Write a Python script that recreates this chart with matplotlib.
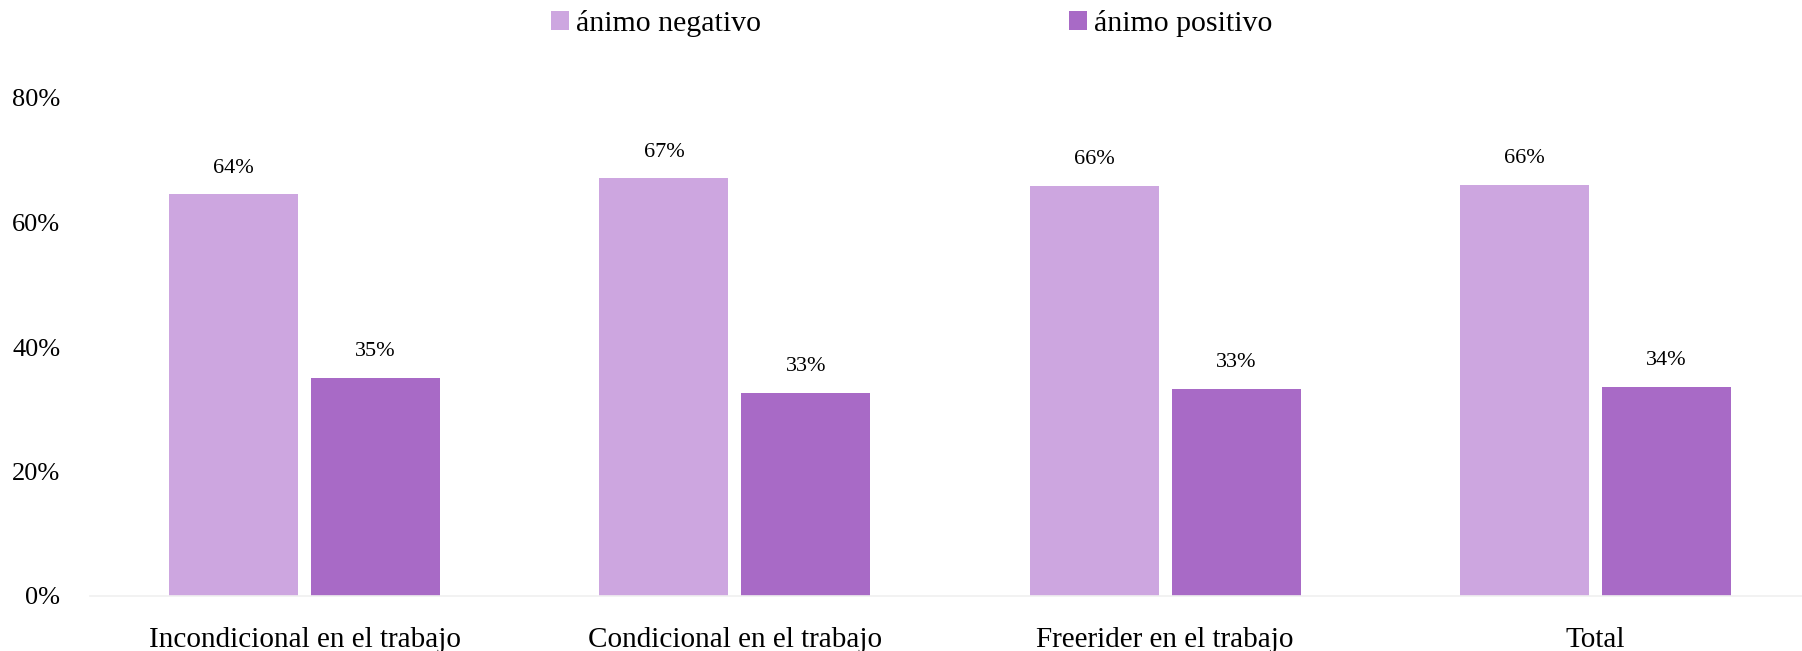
import matplotlib
matplotlib.use("Agg")
from matplotlib import pyplot as plt
import numpy as np

categorias = ["Incondicional en el trabajo", "Condicional en el trabajo", "Freerider en el trabajo", "Total"]
animo_negativo = [0.645, 0.671, 0.659, 0.660]
animo_positivo = [0.351, 0.326, 0.333, 0.336]
etiquetas_neg = ["64%", "67%", "66%", "66%"]
etiquetas_pos = ["35%", "33%", "33%", "34%"]

plt.rcParams['font.family'] = ['Liberation Serif', 'DejaVu Serif']

fig = plt.figure(figsize=(18.02, 6.51), dpi=100)
ax = fig.add_axes([89.5/1802, 55/651, 1 - 89.5/1802, 498/651])

x = np.arange(len(categorias))
ancho = 0.30
c_neg = "#CDA6E0"
c_pos = "#A86AC6"
b1 = ax.bar(x - 0.165, animo_negativo, ancho, color=c_neg, label="ánimo negativo")
b2 = ax.bar(x + 0.165, animo_positivo, ancho, color=c_pos, label="ánimo positivo")

for barra, t in zip(b1, etiquetas_neg):
    ax.annotate(t, (barra.get_x() + barra.get_width()/2, barra.get_height()),
                xytext=(0, 12), textcoords="offset points", ha="center", va="bottom", fontsize=16)
for barra, t in zip(b2, etiquetas_pos):
    ax.annotate(t, (barra.get_x() + barra.get_width()/2, barra.get_height()),
                xytext=(0, 12), textcoords="offset points", ha="center", va="bottom", fontsize=16)

ax.set_ylim(0, 0.8)
ax.set_xlim(-0.5, 3.48)
ax.set_yticks([0, 0.2, 0.4, 0.6, 0.8])
ax.set_yticklabels(["0%", "20%", "40%", "60%", "80%"], fontsize=19)
ax.set_xticks(x)
ax.set_xticklabels(categorias, fontsize=21)
ax.tick_params(axis="both", length=0)
ax.tick_params(axis="y", pad=21)
ax.tick_params(axis="x", pad=22)
for s in ["top", "right", "left"]:
    ax.spines[s].set_visible(False)
ax.spines["bottom"].set_color("#F0F0F0")
ax.spines["bottom"].set_linewidth(1.2)

fig.legend(loc="upper left", bbox_to_anchor=(524/1802, 1.026), ncol=2, frameon=False,
           fontsize=21.5, handlelength=0.6, handleheight=0.6, handletextpad=0.25,
           columnspacing=10.3)

fig.savefig("out.png", dpi=100)
